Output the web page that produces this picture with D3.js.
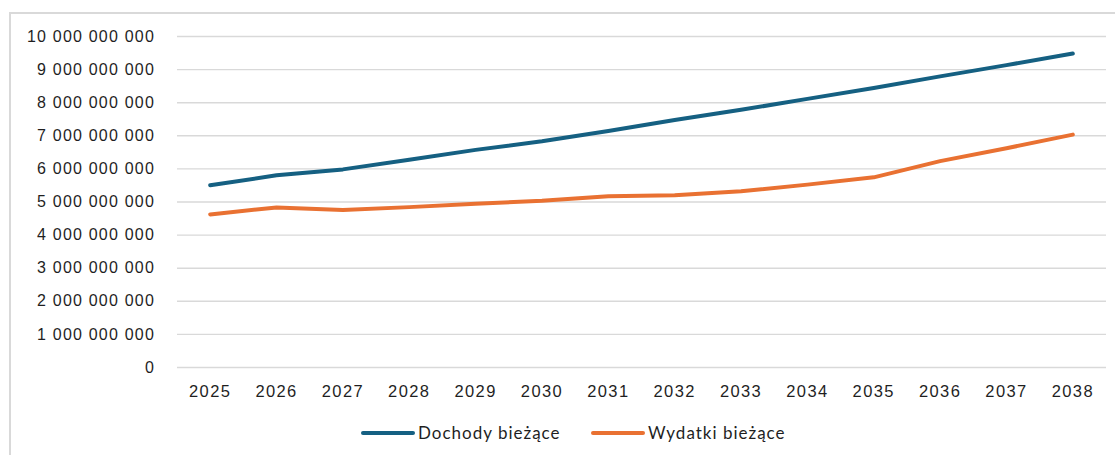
<!DOCTYPE html>
<html>
<head>
<meta charset="utf-8">
<script src="https://cdn.jsdelivr.net/npm/d3@7"></script>
<style>
  body { margin: 0; background: #fff; }
  svg { display: block; }
</style>
</head>
<body>
<svg id="chart" width="1115" height="455"></svg>
<script>
// data
var years    = ["2025","2026","2027","2028","2029","2030","2031","2032","2033","2034","2035","2036","2037","2038"];
var dochody  = [5.49e9, 5.79e9, 5.97e9, 6.26e9, 6.56e9, 6.82e9, 7.13e9, 7.46e9, 7.77e9, 8.10e9, 8.43e9, 8.78e9, 9.12e9, 9.47e9];
var wydatki  = [4.61e9, 4.82e9, 4.74e9, 4.83e9, 4.93e9, 5.02e9, 5.16e9, 5.19e9, 5.31e9, 5.51e9, 5.73e9, 6.22e9, 6.61e9, 7.02e9];
var yTicks   = [0, 1e9, 2e9, 3e9, 4e9, 5e9, 6e9, 7e9, 8e9, 9e9, 1e10];
var seriesNames  = ["Dochody bieżące", "Wydatki bieżące"];
var seriesColors = ["#156082", "#e97132"];

var svg = d3.select("#chart");

// outer frame
svg.append("rect")
    .attr("x", 10).attr("y", 13)
    .attr("width", 1120).attr("height", 460)
    .style("fill", "none")
    .style("stroke", "#d9d9d9")
    .style("stroke-width", 2);

var x = d3.scaleBand().domain(years).range([177, 1106]).padding(0);
var y = d3.scaleLinear().domain([0, 1e10]).range([367, 36]);

var loc = d3.formatLocale({decimal: ",", thousands: "\u00a0", grouping: [3], currency: ["", ""]});
var fmt = loc.format(",.0f");

// gridlines + y labels
var gy = svg.append("g")
    .attr("transform", "translate(177,0)")
    .call(d3.axisLeft(y).tickValues(yTicks).tickSize(-(1106 - 177)).tickFormat(fmt).tickPadding(22));
gy.select(".domain").remove();
gy.selectAll(".tick line").style("stroke", "#d9d9d9").style("stroke-width", 1.4);
gy.selectAll(".tick text")
    .style("font-family", "'Liberation Sans', Arial, sans-serif")
    .style("font-size", "16px")
    .style("letter-spacing", "1.2px")
    .style("fill", "#1f1f1f");

// x labels
var gx = svg.append("g")
    .attr("transform", "translate(0,367)")
    .call(d3.axisBottom(x).tickSize(0).tickPadding(18));
gx.select(".domain").remove();
gx.selectAll(".tick text")
    .style("font-family", "'Liberation Sans', Arial, sans-serif")
    .style("font-size", "16.5px")
    .style("letter-spacing", "1.4px")
    .style("fill", "#1f1f1f");

var line = d3.line()
    .x(function(d, i) { return x(years[i]) + x.bandwidth() / 2; })
    .y(function(d) { return y(d); });

[dochody, wydatki].forEach(function(s, k) {
    svg.append("path")
        .datum(s)
        .attr("d", line)
        .style("fill", "none")
        .style("stroke", seriesColors[k])
        .style("stroke-width", 4)
        .style("stroke-linecap", "round")
        .style("stroke-linejoin", "round");
});

// legend
var legX = [363, 593];
var leg = svg.append("g");
seriesNames.forEach(function(name, k) {
    leg.append("line")
        .attr("x1", legX[k]).attr("x2", legX[k] + 50)
        .attr("y1", 433).attr("y2", 433)
        .style("stroke", seriesColors[k])
        .style("stroke-width", 4)
        .style("stroke-linecap", "round");
    leg.append("text")
        .attr("x", legX[k] + 55).attr("y", 433)
        .attr("dy", "0.35em")
        .text(name)
        .style("font-family", "Lato, sans-serif")
        .style("font-size", "17px")
        .style("letter-spacing", "1px")
        .style("fill", "#1f1f1f");
});
</script>
</body>
</html>
